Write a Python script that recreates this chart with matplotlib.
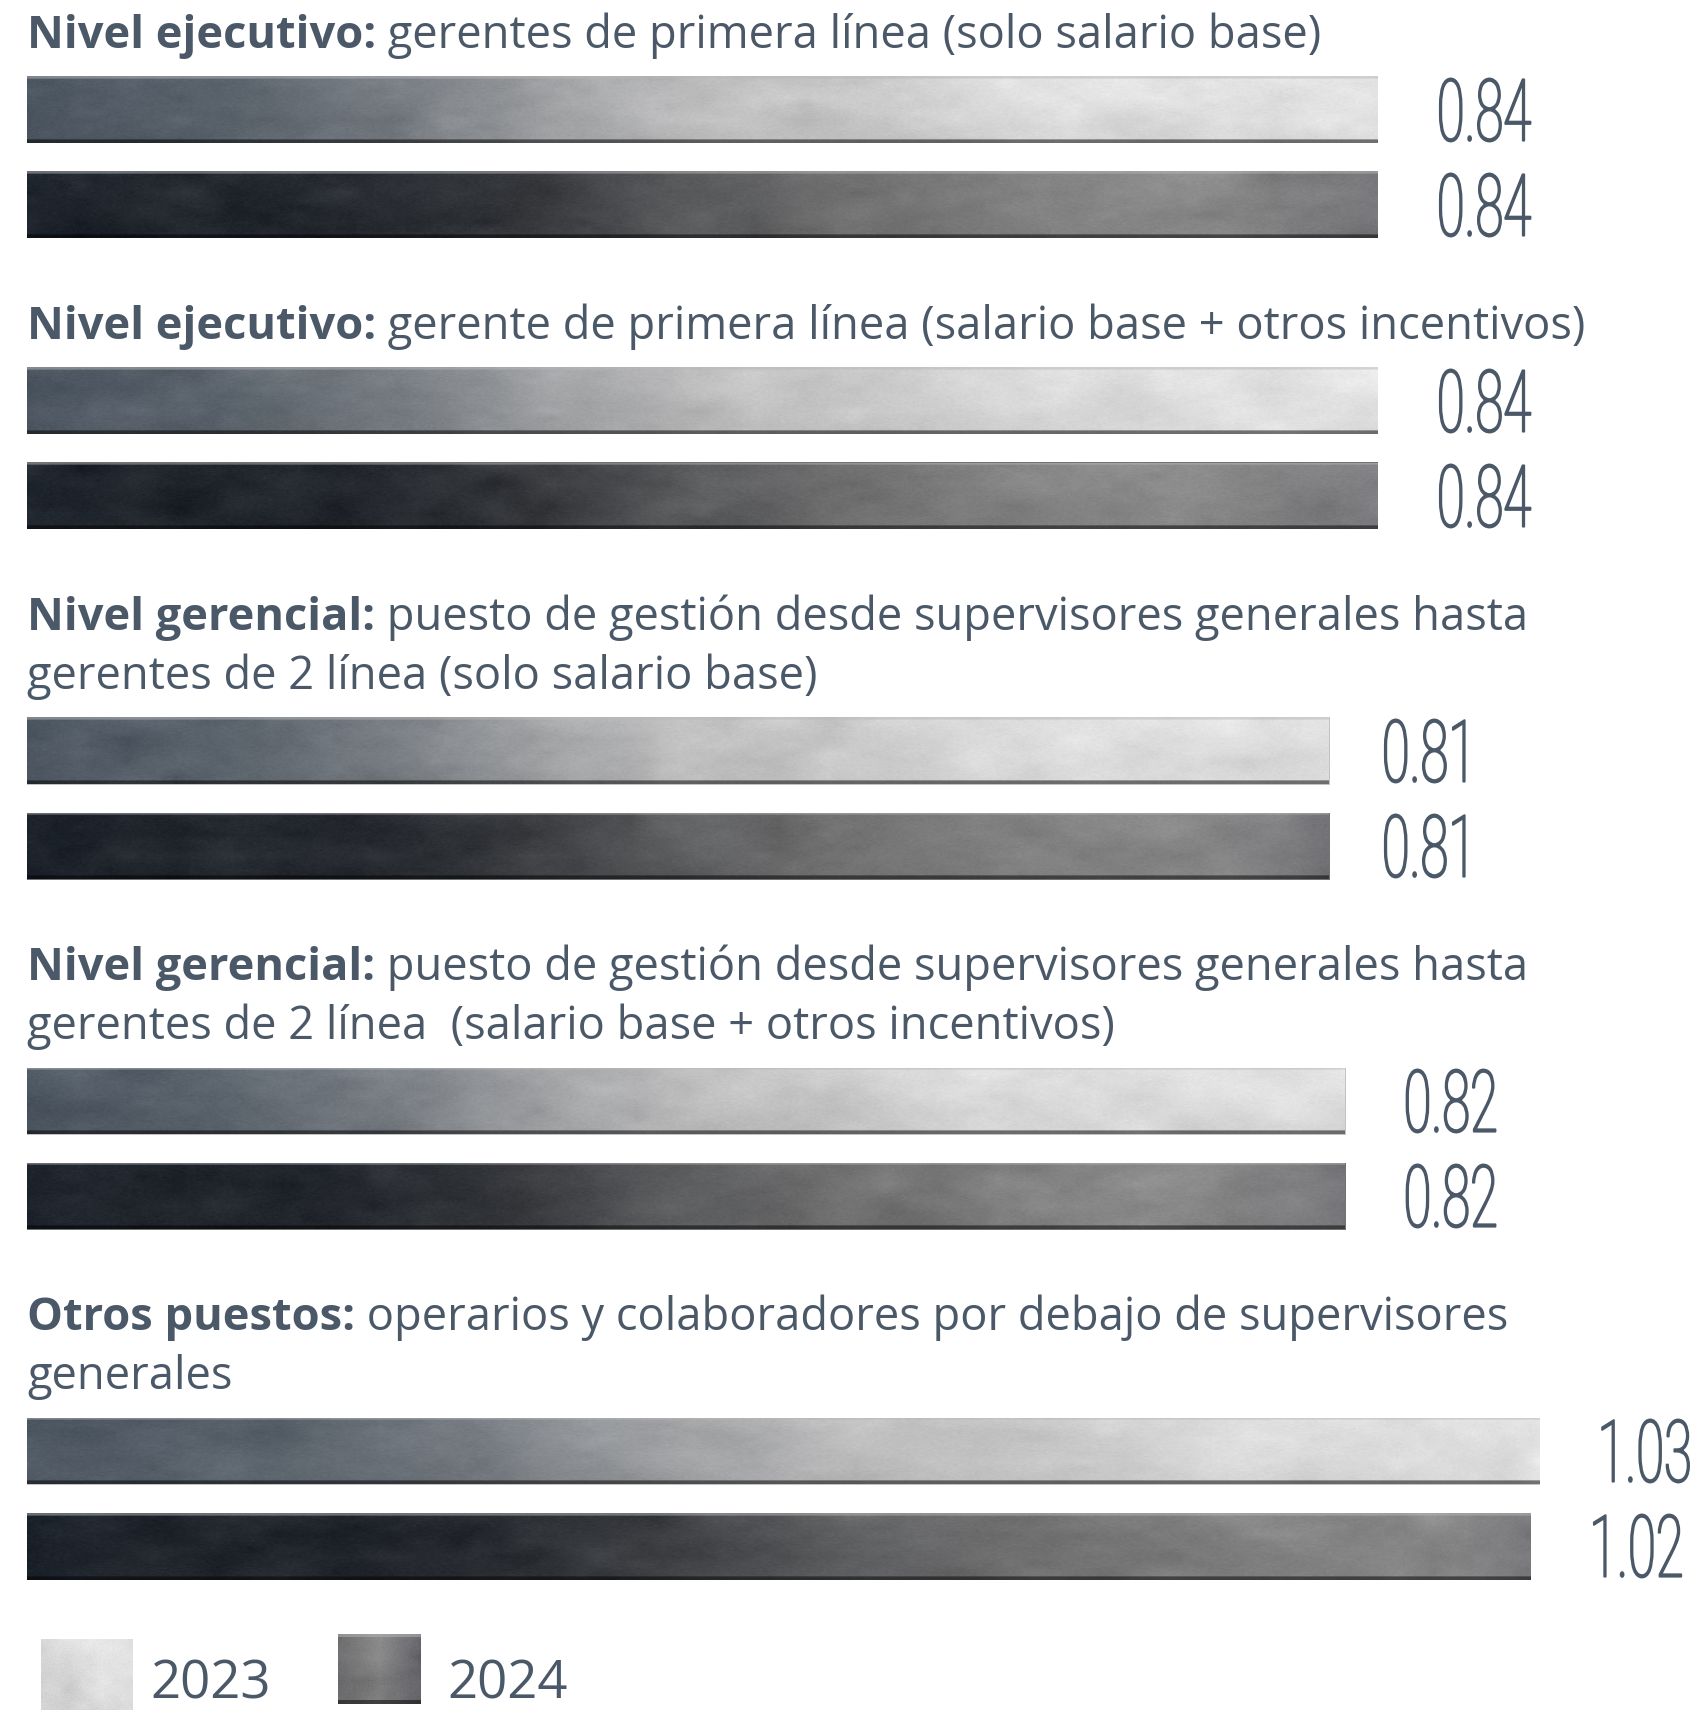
import numpy as np
import matplotlib
matplotlib.use("Agg")
import matplotlib.pyplot as plt
from matplotlib import font_manager
from matplotlib.patheffects import AbstractPathEffect
from matplotlib.transforms import Affine2D

# ---- data ---------------------------------------------------------------
group_bold = ["Nivel ejecutivo:", "Nivel ejecutivo:", "Nivel gerencial:",
              "Nivel gerencial:", "Otros puestos:"]
group_rest = [
    [" gerentes de primera línea (solo salario base)"],
    [" gerente de primera línea (salario base + otros incentivos)"],
    [" puesto de gestión desde supervisores generales hasta",
     "gerentes de 2 línea (solo salario base)"],
    [" puesto de gestión desde supervisores generales hasta",
     "gerentes de 2 línea  (salario base + otros incentivos)"],
    [" operarios y colaboradores por debajo de supervisores",
     "generales"],
]
values_2023 = [0.84, 0.84, 0.81, 0.82, 1.03]
values_2024 = [0.84, 0.84, 0.81, 0.82, 1.02]
series = ["2023", "2024"]

# ---- style / layout -----------------------------------------------------
W, H, DPI = 1707, 1710, 100
TXT = "#4a5868"


def pick_family(cands):
    # first family that really has a bold face
    for fam in cands:
        try:
            p = font_manager.findfont(font_manager.FontProperties(family=fam, weight="bold"),
                                      fallback_to_default=False)
        except Exception:
            continue
        name = font_manager.FontProperties(fname=p).get_name()
        if fam.lower() in name.lower() and "bold" in p.lower():
            return fam
    return "DejaVu Sans"


TITLE_FAM = pick_family(["Open Sans", "Noto Sans", "Lato", "Roboto"])
TITLE_FONT = [TITLE_FAM, "DejaVu Sans"]
NUM_FONT = ["Roboto", "DejaVu Sans"]
TITLE_FS = 32.6

# the published bars are not proportional for the last group -> piecewise scale
SCALE_V = [-1.0, 0.0, 0.84, 1.03, 3.0]
SCALE_PX = [27 - 1608, 27, 1378, 1540, 1540 + 853 * 1.97]

BASE0 = 48          # first title baseline (px from top)
LINE_STEP = 59
TITLE_TO_BAR = 62
BAR_STEP = 95
BAR_TO_TITLE = 134
BAR_H = 67
LABEL_GAP = 58      # px between bar end and value label
NUM_FS = 62
SQ_X, SQ_PIVOT = 0.59, 0.9

STOPS_2023 = [(0.0, (80, 90, 101)), (0.14, (92, 101, 110)), (0.28, (122, 127, 133)),
              (0.40, (168, 169, 171)), (0.50, (194, 194, 195)), (0.62, (204, 204, 204)),
              (0.72, (222, 222, 222)), (1.0, (231, 231, 231))]
STOPS_2024 = [(0.0, (32, 38, 46)), (0.25, (38, 42, 48)), (0.38, (58, 60, 64)),
              (0.48, (92, 93, 95)), (0.60, (114, 114, 115)), (0.75, (134, 134, 134)),
              (0.88, (140, 140, 140)), (1.0, (124, 124, 128))]


def fwd(v):
    return np.interp(v, SCALE_V, SCALE_PX)


def inv(p):
    return np.interp(p, SCALE_PX, SCALE_V)


class Squeeze(AbstractPathEffect):
    """horizontal squeeze around a pivot -> condensed look of the value labels"""
    def __init__(self, sx, pivot, lw=1.4):
        super().__init__()
        self.sx, self.pivot, self.lw = sx, pivot, lw

    def draw_path(self, renderer, gc, tpath, affine, rgbFace=None):
        ext = tpath.get_extents()
        p = ext.x0 + self.pivot * (ext.x1 - ext.x0)
        sq = Affine2D().translate(-p, 0).scale(self.sx, 1).translate(p, 0)
        gc0 = renderer.new_gc()
        gc0.copy_properties(gc)
        gc0.set_linewidth(self.lw)
        if rgbFace is not None:
            gc0.set_foreground(rgbFace)
        renderer.draw_path(gc0, tpath, sq + affine, rgbFace)
        gc0.restore()


def blobs(rng, n_rows, n_cols, gy, gx):
    # low-res random grid, bilinear upsampled -> mottled texture
    g = rng.normal(0, 1, (gy, gx))
    xs = np.linspace(0, gx - 1, n_cols)
    ys = np.linspace(0, gy - 1, n_rows)
    tmp = np.stack([np.interp(xs, np.arange(gx), row) for row in g])
    out = np.stack([np.interp(ys, np.arange(gy), col) for col in tmp.T], axis=1)
    return out / (out.std() + 1e-9)


def texture(stops, n_cols=600, n_rows=64, seed=0, edges=True):
    fr = np.array([s[0] for s in stops])
    cols = np.array([s[1] for s in stops], dtype=float) / 255
    x = np.linspace(0, 1, n_cols)
    base = np.stack([np.interp(x, fr, cols[:, k]) for k in range(3)], axis=-1)
    img = np.repeat(base[None, :, :], n_rows, axis=0)
    rng = np.random.default_rng(seed)
    gx = max(3, n_cols // 22)
    img = img + 0.013 * blobs(rng, n_rows, n_cols, 4, gx)[:, :, None]
    img = img + 0.006 * blobs(rng, n_rows, n_cols, 10, 3 * gx)[:, :, None]
    img = img + rng.normal(0, 0.009, (n_rows, n_cols, 1))
    t = np.linspace(0, 1, n_rows)[:, None, None]
    img = img * (1 - 0.05 * t)
    if edges:
        img = np.where(t < 0.035, 0.5 * img + 0.5 * 0.72, img)
        img = np.where(t > 0.955, img * 0.5, img)
    return np.clip(img, 0, 1)


fig = plt.figure(figsize=(W / DPI, H / DPI), dpi=DPI)
ax = fig.add_axes([0, 0, 1, 1])
ax.set_axis_off()
ax.set_xscale("function", functions=(fwd, inv))
ax.set_xlim(inv(0), inv(W))
ax.set_ylim(H, 0)

renderer = fig.canvas.get_renderer()
digit_h_pt = NUM_FS * 0.711

y = BASE0
for gi, (bold, rest) in enumerate(zip(group_bold, group_rest)):
    # title lines: bold lead + regular rest on the same baseline
    tb = ax.text(0, y, bold, fontsize=TITLE_FS, fontweight="bold", color=TXT,
                 family=TITLE_FONT, va="baseline", ha="left")
    bb = tb.get_window_extent(renderer)
    x_after = ax.transData.inverted().transform((bb.x1, bb.y0))[0]
    ax.text(x_after, y, rest[0], fontsize=TITLE_FS, color=TXT, family=TITLE_FONT,
            va="baseline", ha="left")
    for line in rest[1:]:
        y += LINE_STEP
        ax.text(0, y, line, fontsize=TITLE_FS, color=TXT, family=TITLE_FONT,
                va="baseline", ha="left")
    # bars
    yc = y + TITLE_TO_BAR
    for si, vals in enumerate([values_2023, values_2024]):
        v = vals[gi]
        stops = STOPS_2023 if si == 0 else STOPS_2024
        bar = ax.barh(yc, v, height=BAR_H, left=0, color=np.array(stops[4][1]) / 255,
                      linewidth=0, zorder=1)[0]
        im = ax.imshow(texture(stops, seed=gi * 2 + si),
                       extent=(0, v, yc + BAR_H / 2, yc - BAR_H / 2),
                       aspect="auto", interpolation="bilinear", zorder=2)
        im.set_clip_path(bar)
        lab = ax.annotate(f"{v:.2f}", xy=(v, yc), xytext=(0, -digit_h_pt / 2),
                          textcoords="offset points", ha="left", va="baseline",
                          fontsize=NUM_FS, fontweight="light", color=TXT,
                          family=NUM_FONT, path_effects=[Squeeze(SQ_X, SQ_PIVOT)])
        wl = lab.get_window_extent(renderer).width
        dx = max(LABEL_GAP - SQ_PIVOT * (1 - SQ_X) * wl, 0)
        lab.xyann = (dx * 72 / DPI, -digit_h_pt / 2)
        yc += BAR_STEP
    y = yc - BAR_STEP + BAR_TO_TITLE

ax.set_xlim(inv(0), inv(W))
ax.set_ylim(H, 0)

# legend swatches (pixel-placed images) and labels
sw23 = texture([(0, (216, 216, 216)), (0.5, (226, 226, 226)), (1, (229, 229, 229))],
               n_cols=92, n_rows=76, seed=11, edges=False)
sw24 = texture([(0, (110, 110, 112)), (0.5, (134, 134, 134)), (1, (104, 104, 110))],
               n_cols=83, n_rows=70, seed=12)
fig.figimage(sw23, xo=41, yo=-5, zorder=3)
fig.figimage(sw24, xo=338, yo=6, zorder=3)
fig.text(150 / W, 1 - 1698 / H, series[0], fontsize=38, color=TXT,
         family=TITLE_FONT, va="baseline", ha="left")
fig.text(447 / W, 1 - 1698 / H, series[1], fontsize=38, color=TXT,
         family=TITLE_FONT, va="baseline", ha="left")

fig.savefig("out.png", dpi=DPI)
